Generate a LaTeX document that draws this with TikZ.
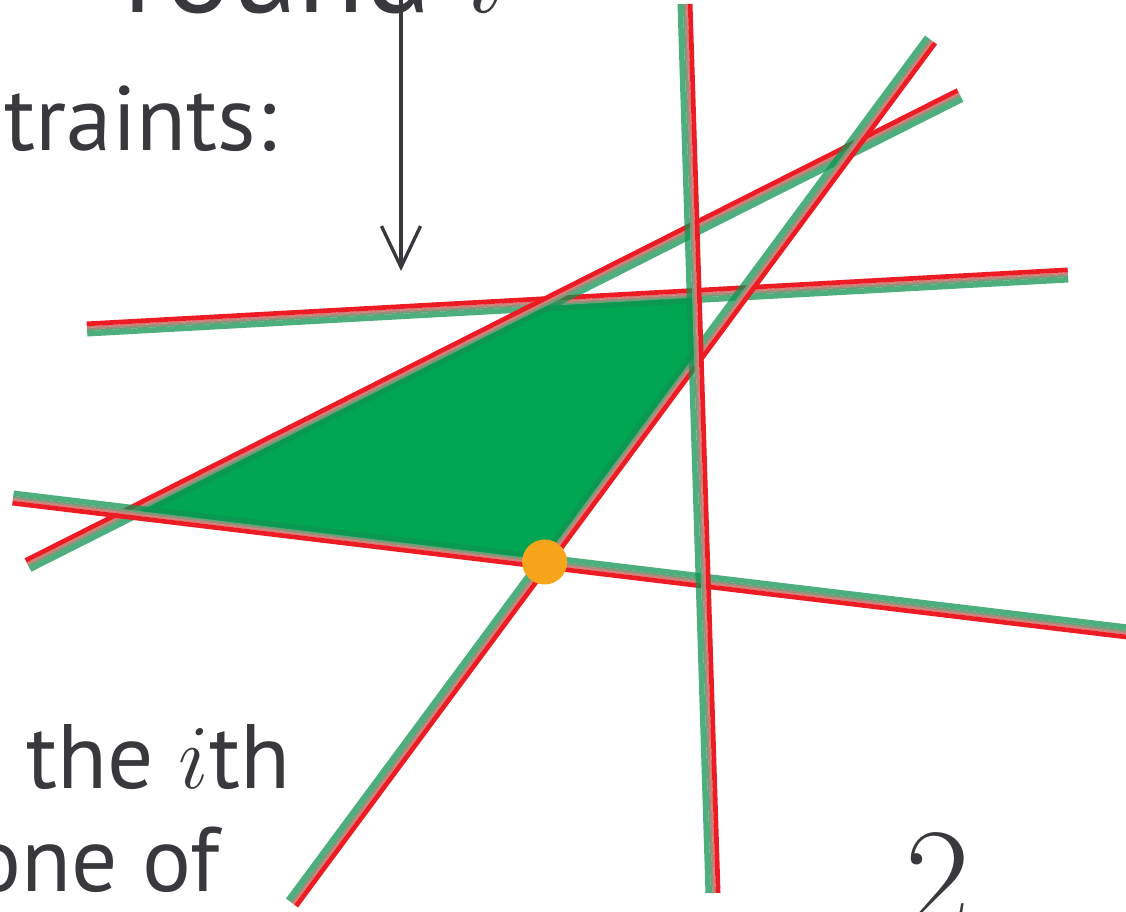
\documentclass[tikz,border=0pt]{standalone}
\usepackage{fix-cm}
\usepackage{fontspec}
\setmainfont{PT Sans}
\usetikzlibrary{arrows.meta,calc}
\definecolor{ink}{RGB}{56,56,61}
\definecolor{cutred}{RGB}{237,28,36}
\definecolor{cutgreen}{RGB}{16,148,81}
\definecolor{fadegreen}{RGB}{105,160,120}
\definecolor{fademid}{RGB}{165,140,122}
\definecolor{fadepink}{RGB}{212,128,122}
\definecolor{feasible}{RGB}{0,166,81}
\definecolor{vertexorange}{RGB}{247,166,28}
\tikzset{txt/.style={text=ink,font=\fontsize{26}{30}\selectfont,inner sep=0pt},region/.style={fill=feasible},pointer/.style={draw=ink,line width=0.95pt,-{Straight Barb[length=4.1mm,width=3.9mm]}},vertex/.style={circle,fill=vertexorange,minimum size=4.5mm,inner sep=0pt}}
% one half-plane: red edge on the left of #1->#2, green on the right
\newcommand\band[2]{\foreach \off/\wd/\col/\op in {-0.0475cm/0.055cm/cutgreen/.75,-0.012cm/0.019cm/fadegreen/1,0.004cm/0.019cm/fademid/1,0.02cm/0.019cm/fadepink/1,0.0515cm/0.047cm/cutred/1}
  \draw[line width=\wd,draw=\col,opacity=\op] ($(#1)!\off!90:(#2)$) -- ($(#2)!\off!-90:(#1)$);}

\begin{document}
\begin{tikzpicture}[x=0.01cm,y=-0.01cm]
\useasboundingbox (0,0) rectangle (1126,911);
\clip (0,0) rectangle (1126,911);
% constraint lines
\coordinate (aL) at (87,329); \coordinate (aR) at (1068,275);
\coordinate (bL) at (28,565); \coordinate (bR) at (960,95);
\coordinate (cT) at (931,40); \coordinate (cB) at (292,903);
\coordinate (dT) at (685,4); \coordinate (dB) at (713,893);
\coordinate (eR) at (1136,633); \coordinate (eL) at (13,498);
\fill[region] (intersection of aL--aR and bL--bR) -- (intersection of aL--aR and dT--dB) -- (intersection of dT--dB and cT--cB) -- (intersection of cT--cB and eR--eL) -- (intersection of eR--eL and bL--bR) -- cycle;
\band{aL}{aR}
\band{bL}{bR}
\band{eR}{eL}
\band{cT}{cB}
\band{dT}{dB}
\node[vertex] (opt) at (intersection of cT--cB and eR--eL) {};
% texts
\node[txt,anchor=base west,font=\fontsize{35}{40}\selectfont] (title) at (123,12) {round $i$};
\node[txt,anchor=base east] (cons) at (277,150) {traints:};
\node[txt,anchor=base west] (ith) at (26,788) {the $i$th};
\node[txt,anchor=base east] (oneof) at (220,891) {one of};
\node[txt,anchor=base west,font=\fontsize{40}{44}\selectfont] (two) at (905,925) {$2$};
\coordinate (arrtop) at (401,0);
\coordinate (arrtip) at (401,271);
\draw[pointer] (arrtop) -- (arrtip);
\end{tikzpicture}
\end{document}
